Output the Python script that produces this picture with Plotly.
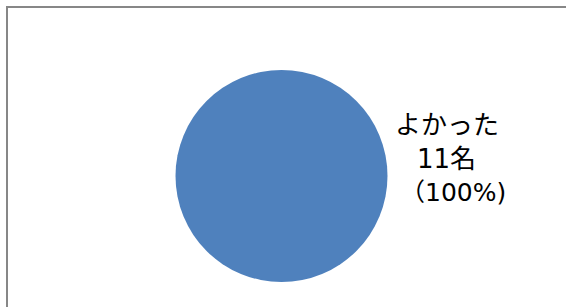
import plotly.graph_objects as go

labels = ["よかった"]
values = [11]
unit = "名"

total = sum(values)
W, H = 566, 307
cx, cy, r = 281.5, 176, 106

fig = go.Figure(go.Pie(
    labels=labels, values=values, sort=False,
    marker=dict(colors=["#4F81BD"], line=dict(width=0)),
    textinfo="none", hoverinfo="label+value+percent",
    domain=dict(x=[(cx - r) / W, (cx + r) / W], y=[1 - (cy + r) / H, 1 - (cy - r) / H]),
    showlegend=False,
))

lines = [labels[0], f"{values[0]}{unit}", f"（{round(values[0] / total * 100)}%)"]
ys = [125, 159, 193]
xs = [447, 446, 453]
sizes = [26, 26, 25]
for t, x, y, s in zip(lines, xs, ys, sizes):
    fig.add_annotation(text=t, x=x / W, y=1 - y / H, xref="paper", yref="paper",
                       showarrow=False, xanchor="center", yanchor="middle",
                       font=dict(family="DejaVu Sans, Noto Sans CJK JP", size=s, color="#000000"))

# chart-area border (left and top edges visible; right/bottom lie outside the view)
bx, by = 7 / W, 1 - 7 / H
fig.add_shape(type="line", xref="paper", yref="paper", x0=bx, x1=bx, y0=0, y1=by,
              line=dict(color="#878787", width=2))
fig.add_shape(type="line", xref="paper", yref="paper", x0=bx - 1 / W, x1=1, y0=by, y1=by,
              line=dict(color="#878787", width=2))

fig.update_layout(width=W, height=H, margin=dict(l=0, r=0, t=0, b=0),
                  paper_bgcolor="white", plot_bgcolor="white")
fig.write_html("out.html", config={"displayModeBar": False},
               post_script="document.body.style.margin='0';document.body.style.overflow='hidden';")
